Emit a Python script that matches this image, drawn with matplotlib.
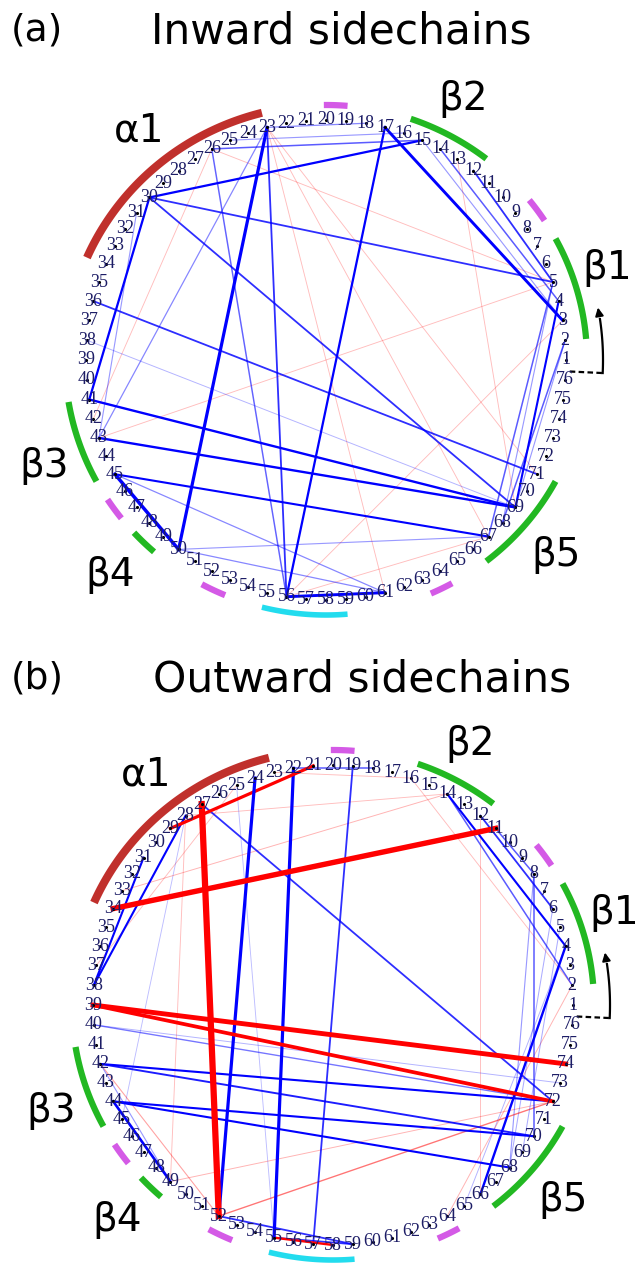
import numpy as np
import matplotlib.pyplot as plt

N_RES = 76

# secondary structure segments, in residue units along the ring
SS_START = [2, 8, 12, 19, 23, 41, 46, 48, 52, 55, 63, 66]
SS_END = [7, 9.2, 16, 20.1, 34, 45, 47.1, 49.3, 53.2, 59, 64.1, 71]
SS_KIND = ["beta", "turn", "beta", "turn", "alpha", "beta", "turn", "beta", "turn", "h310", "turn", "beta"]
SS_COLORS = {"beta": "#22b822", "turn": "#d45ae6", "alpha": "#c0302c", "h310": "#22dcee"}
SS_LW = {"beta": 4.5, "turn": 4.5, "alpha": 5.8, "h310": 4.0}

SS_NAMES = ["α1", "β2", "β1", "β3", "β4", "β5"]
SS_NAME_DX = [-187, 137, 281, -282, -216, 230]
SS_NAME_DY = [-230, -261, -92, 106, 215, 195]

# panel (a): inward sidechains. positive = blue, negative = red
A_I = [23, 17, 45, 17, 30, 30, 30, 30, 36, 41, 43, 45, 56, 23, 12, 14, 15, 26, 23, 25,
       26, 43, 43, 5, 4, 2, 50, 50, 45, 38, 5, 2,
       43, 26, 23, 23, 26, 13, 56, 23, 56]
A_J = [50, 3, 50, 56, 41, 15, 69, 5, 71, 69, 69, 67, 61, 56, 5, 4, 3, 15, 18, 16,
       56, 23, 31, 67, 69, 68, 67, 61, 61, 69, 68, 69,
       5, 42, 61, 67, 5, 69, 3, 71, 67]
A_W = [0.45, 0.4, 0.5, 0.28, 0.28, 0.28, 0.2, 0.2, 0.2, 0.3, 0.3, 0.25, 0.4, 0.2, 0.2, 0.15, 0.08, 0.15, 0.1, 0.08,
       0.14, 0.1, 0.08, 0.15, 0.25, 0.15, 0.08, 0.1, 0.1, 0.05, 0.08, 0.08,
       -0.04, -0.04, -0.04, -0.04, -0.04, -0.04, -0.04, -0.04, -0.04]

# panel (b): outward sidechains
B_I = [34, 27, 39, 39, 29, 52, 55, 24, 22, 19, 27, 38, 38, 14, 14, 12, 11, 4, 8, 8,
       6, 5, 42, 42, 44, 44, 40, 40, 44, 42, 52, 55, 18, 25, 28, 65,
       64, 12, 16, 33, 42, 49, 37, 49, 28, 23]
B_J = [11, 52, 74, 72, 21, 72, 58, 52, 55, 57, 72, 28, 31, 4, 2, 6, 8, 66, 70, 68,
       68, 69, 72, 70, 70, 68, 72, 73, 49, 49, 59, 59, 22, 55, 45, 4,
       2, 66, 2, 14, 52, 72, 25, 28, 14, 16]
B_W = [-0.85, -1.0, -0.75, -0.55, -0.45, -0.12, -0.3, 0.45, 0.45, 0.2, 0.2, 0.25, 0.25, 0.25, 0.15, 0.2, 0.15, 0.3, 0.15, 0.08,
       0.06, 0.06, 0.25, 0.22, 0.25, 0.25, 0.12, 0.05, 0.35, 0.08, 0.2, 0.2, 0.15, 0.04, 0.04, 0.05,
       -0.05, -0.04, -0.04, -0.05, -0.07, -0.05, -0.04, -0.04, -0.04, -0.04]

TITLES = ["Inward sidechains", "Outward sidechains"]
TAGS = ["(a)", "(b)"]

R = 240.0
CENTERS = [(326, 360), (333, 1005)]
TITLE_X = [341, 362]
TITLE_Y = [32, 680]


def res_xy(cx, cy, p, rx=R, ry=None):
    if ry is None:
        ry = rx
    th = np.deg2rad((np.asarray(p, dtype=float) - 1) * 360.0 / N_RES)
    return cx + rx * np.cos(th), cy - ry * np.sin(th)


def draw_panel(ax, cx, cy, ei, ej, ew, title, tx, tag, ty):
    order = np.argsort(np.abs(ew))
    for k in order:
        w = ew[k]
        col = "#0000ff" if w > 0 else "#ff0000"
        x0, y0 = res_xy(cx, cy, ei[k])
        x1, y1 = res_xy(cx, cy, ej[k])
        ax.plot([x0, x1], [y0, y1], color=col, lw=0.5 + 4.0 * abs(w),
                alpha=min(1.0, 0.12 + 3.5 * abs(w)), zorder=2)

    res = np.arange(1, N_RES + 1)
    xs, ys = res_xy(cx, cy, res)
    ax.plot(xs, ys, "k.", ms=2.5, zorder=3)
    for i, x, y in zip(res, xs, ys):
        ax.text(x, y, str(i), ha="center", va="center", fontsize=13,
                family="Liberation Serif", color="#1d1d66", zorder=4)

    # secondary structure arcs
    for s, e, kind in zip(SS_START, SS_END, SS_KIND):
        p = np.linspace(s, e, 60)
        ax_, ay_ = res_xy(cx, cy, p, rx=261, ry=255)
        ax.plot(ax_, ay_, color=SS_COLORS[kind], lw=SS_LW[kind], solid_capstyle="butt", zorder=1)

    for name, dx, dy in zip(SS_NAMES, SS_NAME_DX, SS_NAME_DY):
        ax.text(cx + dx, cy + dy, name, ha="center", va="center", fontsize=28, color="black")

    # chain direction marker: dashed stub then curved arrow
    th0 = np.deg2rad(-2.7)
    ax.plot([cx + 244 * np.cos(th0), cx + 277 * np.cos(th0)],
            [cy - 244 * np.sin(th0), cy - 277 * np.sin(th0)],
            color="black", lw=1.6, ls=(0, (2.5, 1.5)), zorder=3)
    t = np.deg2rad(np.linspace(-2.7, 8.5, 40))
    ax.plot(cx + 277 * np.cos(t), cy - 277 * np.sin(t), color="black", lw=1.6, zorder=3)
    ax.annotate("", xy=(cx + 277 * np.cos(np.deg2rad(11.5)), cy - 277 * np.sin(np.deg2rad(11.5))),
                xytext=(cx + 277 * np.cos(t[-1]), cy - 277 * np.sin(t[-1])),
                arrowprops=dict(arrowstyle="-|>", color="black", lw=1.4, mutation_scale=12))

    ax.text(tx, ty, title, ha="center", va="center", fontsize=30.5)
    ax.text(37, ty - 2, tag, ha="center", va="center", fontsize=27)


fig = plt.figure(figsize=(6.42, 12.63), dpi=100)
ax = fig.add_axes([0, 0, 1, 1])
ax.set_xlim(0, 642)
ax.set_ylim(1263, 0)
ax.axis("off")

draw_panel(ax, *CENTERS[0], A_I, A_J, np.array(A_W), TITLES[0], TITLE_X[0], TAGS[0], TITLE_Y[0])
draw_panel(ax, *CENTERS[1], B_I, B_J, np.array(B_W), TITLES[1], TITLE_X[1], TAGS[1], TITLE_Y[1])

fig.savefig("out.png", dpi=100)
